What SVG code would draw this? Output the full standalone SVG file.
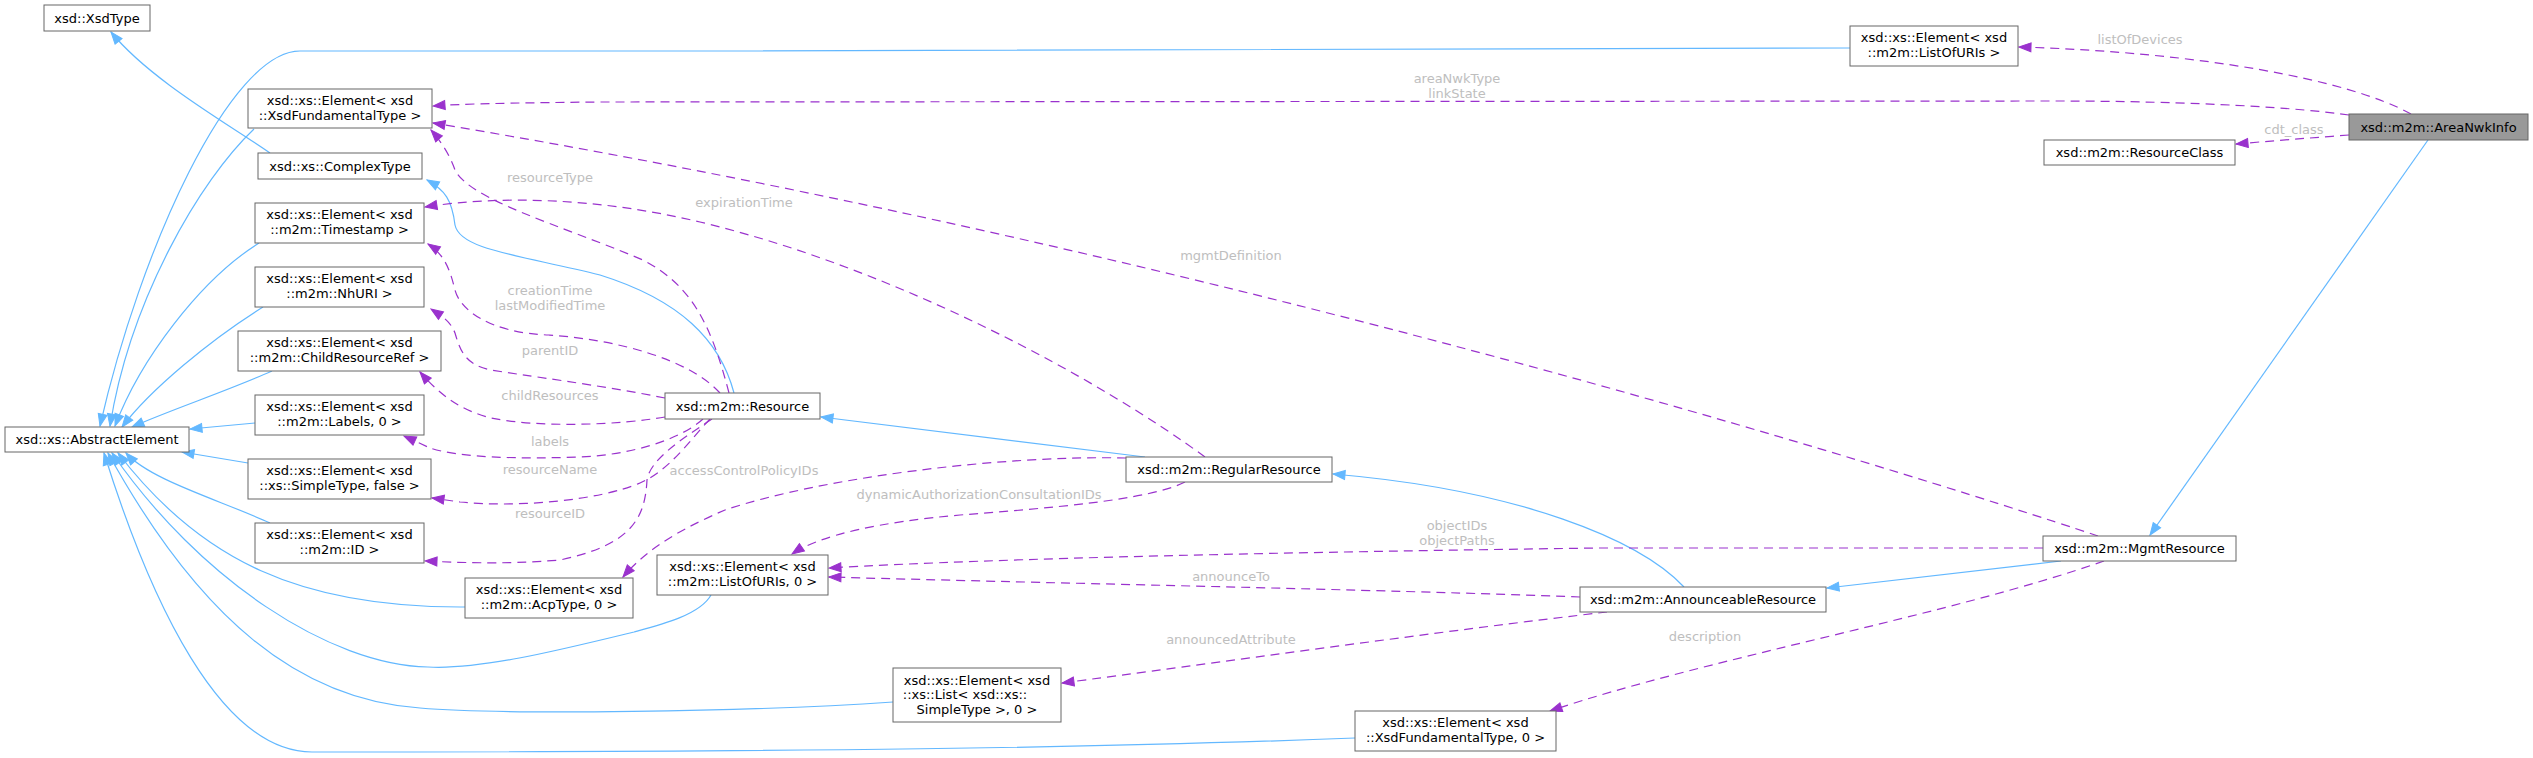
<svg xmlns="http://www.w3.org/2000/svg" width="2533" height="758" viewBox="0 0 2533 758">
<style>
.n rect{fill:#fff;stroke:#666;stroke-width:1}
.n text{font-family:"DejaVu Sans",sans-serif;font-size:13px;fill:#000;text-anchor:middle}
.main rect{fill:#999}
.b{fill:none;stroke:#63b8ff;stroke-width:1.2;marker-end:url(#ab)}
.p{fill:none;stroke:#9a32cd;stroke-width:1.2;stroke-dasharray:9,6;marker-end:url(#ap)}
.l{font-family:"DejaVu Sans",sans-serif;font-size:13px;fill:#bebebe;text-anchor:middle}
</style>
<defs>
<marker id="ab" markerUnits="userSpaceOnUse" markerWidth="14" markerHeight="12" refX="13" refY="6" orient="auto"><path d="M1,1.5 L13,6 L1,10.5 z" fill="#63b8ff" stroke="#63b8ff"/></marker>
<marker id="ap" markerUnits="userSpaceOnUse" markerWidth="14" markerHeight="12" refX="13" refY="6" orient="auto"><path d="M1,1.5 L13,6 L1,10.5 z" fill="#9a32cd" stroke="#9a32cd"/></marker>
</defs>
<rect width="2533" height="758" fill="#fff"/>
<g id="edges">
<path class="b" d="M270,153 C230,125 150,80 111,32"/>
<path class="b" d="M254,129 C200,180 130,300 110,426"/>
<path class="b" d="M1850,48 C1700,50 1200,51 700,51 L300,51 C230,51 140,250 100,426"/>
<path class="b" d="M259,243 C200,280 140,360 115,426"/>
<path class="b" d="M263,307 C210,340 150,390 122,427"/>
<path class="b" d="M272,371 C230,390 170,410 132,427"/>
<path class="b" d="M255,423 L190,429"/>
<path class="b" d="M248,463 L182,452"/>
<path class="b" d="M270,523 C220,500 150,480 126,453"/>
<path class="b" d="M465,607 C300,608 200,560 118,453"/>
<path class="b" d="M711,595 C700,615 660,625 634,632 C560,650 480,670 428,667 C330,665 200,580 112,453"/>
<path class="b" d="M893,702 C750,712 500,715 420,708 C300,700 200,620 108,453"/>
<path class="b" d="M1355,738 C1100,748 800,752 312,752 C220,752 150,600 104,453"/>
<path class="b" d="M734,393 C720,340 680,300 600,275 C520,255 460,250 455,225 C452,200 445,190 427,180"/>
<path class="b" d="M1145,457 L821,417"/>
<path class="b" d="M1684,587 C1640,540 1520,490 1333,474"/>
<path class="b" d="M2061,561 L1827,588"/>
<path class="b" d="M2428,140 L2150,535"/>
<path class="p" d="M2411,114 C2350,80 2200,52 2019,47"/>
<path class="p" d="M2349,115 C2300,108 2200,101 2050,101 L600,102 C500,103 460,104 433,106"/>
<path class="p" d="M2349,135 C2310,138 2270,141 2236,144"/>
<path class="p" d="M2098,536 C1900,470 1200,250 433,123"/>
<path class="p" d="M1205,457 C1100,380 900,270 700,222 C600,198 500,195 425,207"/>
<path class="p" d="M729,393 C710,320 690,285 643,260 C560,225 470,200 455,170 C450,155 440,140 431,130"/>
<path class="p" d="M720,393 C690,360 620,340 549,335 C490,333 460,310 455,290 C450,270 445,255 428,244"/>
<path class="p" d="M665,398 C600,385 520,375 491,370 C465,365 460,350 455,333 C450,320 440,315 431,309"/>
<path class="p" d="M665,417 C620,425 540,428 491,418 C460,410 440,395 420,372"/>
<path class="p" d="M703,419 C680,440 630,455 580,457 C520,459 460,458 430,448 L404,436"/>
<path class="p" d="M710,419 C690,440 670,470 640,483 C600,500 520,508 460,502 L432,498"/>
<path class="p" d="M712,419 C680,440 650,460 647,480 C645,520 630,545 560,560 C500,565 450,562 425,561"/>
<path class="p" d="M1126,458 C1000,455 820,478 725,510 C690,525 650,545 623,577"/>
<path class="p" d="M1185,482 C1150,500 1050,508 960,515 C880,522 820,535 792,554"/>
<path class="p" d="M2043,548 L1600,548 C1300,552 1000,558 829,568"/>
<path class="p" d="M1580,597 C1400,590 1000,582 829,577"/>
<path class="p" d="M1607,612 C1450,630 1200,665 1062,683"/>
<path class="p" d="M2104,561 C1950,615 1700,660 1550,711"/>
<text class="l" x="2140" y="44">listOfDevices</text>
<text class="l" x="1457" y="83">areaNwkType</text>
<text class="l" x="1457" y="98">linkState</text>
<text class="l" x="2294" y="134">cdt_class</text>
<text class="l" x="1231" y="260">mgmtDefinition</text>
<text class="l" x="744" y="207">expirationTime</text>
<text class="l" x="550" y="182">resourceType</text>
<text class="l" x="550" y="295">creationTime</text>
<text class="l" x="550" y="310">lastModifiedTime</text>
<text class="l" x="550" y="355">parentID</text>
<text class="l" x="550" y="400">childResources</text>
<text class="l" x="550" y="446">labels</text>
<text class="l" x="550" y="474">resourceName</text>
<text class="l" x="550" y="518">resourceID</text>
<text class="l" x="744" y="475">accessControlPolicyIDs</text>
<text class="l" x="979" y="499">dynamicAuthorizationConsultationIDs</text>
<text class="l" x="1457" y="530">objectIDs</text>
<text class="l" x="1457" y="545">objectPaths</text>
<text class="l" x="1231" y="581">announceTo</text>
<text class="l" x="1231" y="644">announcedAttribute</text>
<text class="l" x="1705" y="641">description</text>
</g>
<g id="n_xsdtype" class="n"><rect x="44" y="5" width="106" height="26"/><text x="97" y="22.5">xsd::XsdType</text></g>
<g id="n_elem_fund" class="n"><rect x="248" y="89" width="184" height="39"/><text x="340" y="104.5">xsd::xs::Element&lt; xsd</text><text x="340" y="119.5">::XsdFundamentalType &gt;</text></g>
<g id="n_complextype" class="n"><rect x="258" y="153" width="164" height="26"/><text x="340" y="170.5">xsd::xs::ComplexType</text></g>
<g id="n_timestamp" class="n"><rect x="255" y="203" width="169" height="40"/><text x="339.5" y="218.5">xsd::xs::Element&lt; xsd</text><text x="339.5" y="233.5">::m2m::Timestamp &gt;</text></g>
<g id="n_nhuri" class="n"><rect x="255" y="267" width="169" height="40"/><text x="339.5" y="282.5">xsd::xs::Element&lt; xsd</text><text x="339.5" y="297.5">::m2m::NhURI &gt;</text></g>
<g id="n_childref" class="n"><rect x="238" y="331" width="203" height="40"/><text x="339.5" y="346.5">xsd::xs::Element&lt; xsd</text><text x="339.5" y="361.5">::m2m::ChildResourceRef &gt;</text></g>
<g id="n_labels" class="n"><rect x="255" y="395" width="169" height="40"/><text x="339.5" y="410.5">xsd::xs::Element&lt; xsd</text><text x="339.5" y="425.5">::m2m::Labels, 0 &gt;</text></g>
<g id="n_abstract" class="n"><rect x="5" y="427" width="184" height="25"/><text x="97" y="444">xsd::xs::AbstractElement</text></g>
<g id="n_simpletype" class="n"><rect x="248" y="459" width="183" height="40"/><text x="339.5" y="474.5">xsd::xs::Element&lt; xsd</text><text x="339.5" y="489.5">::xs::SimpleType, false &gt;</text></g>
<g id="n_id" class="n"><rect x="255" y="523" width="169" height="40"/><text x="339.5" y="538.5">xsd::xs::Element&lt; xsd</text><text x="339.5" y="553.5">::m2m::ID &gt;</text></g>
<g id="n_acptype" class="n"><rect x="465" y="578" width="168" height="40"/><text x="549" y="593.5">xsd::xs::Element&lt; xsd</text><text x="549" y="608.5">::m2m::AcpType, 0 &gt;</text></g>
<g id="n_listofuris0" class="n"><rect x="657" y="555" width="171" height="40"/><text x="742.5" y="570.5">xsd::xs::Element&lt; xsd</text><text x="742.5" y="585.5">::m2m::ListOfURIs, 0 &gt;</text></g>
<g id="n_list" class="n"><rect x="893" y="668" width="168" height="54"/><text x="977" y="684.5">xsd::xs::Element&lt; xsd</text><text x="965" y="699">::xs::List&lt; xsd::xs::</text><text x="977" y="713.5">SimpleType &gt;, 0 &gt;</text></g>
<g id="n_fund0" class="n"><rect x="1355" y="711" width="201" height="40"/><text x="1455.5" y="726.5">xsd::xs::Element&lt; xsd</text><text x="1455.5" y="741.5">::XsdFundamentalType, 0 &gt;</text></g>
<g id="n_resource" class="n"><rect x="665" y="393" width="155" height="26"/><text x="742.5" y="410.5">xsd::m2m::Resource</text></g>
<g id="n_regular" class="n"><rect x="1126" y="457" width="206" height="25"/><text x="1229" y="474">xsd::m2m::RegularResource</text></g>
<g id="n_announceable" class="n"><rect x="1580" y="587" width="246" height="25"/><text x="1703" y="604">xsd::m2m::AnnounceableResource</text></g>
<g id="n_mgmt" class="n"><rect x="2043" y="536" width="193" height="25"/><text x="2139.5" y="553">xsd::m2m::MgmtResource</text></g>
<g id="n_areanwkinfo" class="n main"><rect x="2349" y="114" width="179" height="26"/><text x="2438.5" y="131.5">xsd::m2m::AreaNwkInfo</text></g>
<g id="n_resourceclass" class="n"><rect x="2044" y="140" width="191" height="25"/><text x="2139.5" y="157">xsd::m2m::ResourceClass</text></g>
<g id="n_listofuris" class="n"><rect x="1850" y="26" width="168" height="40"/><text x="1934" y="41.5">xsd::xs::Element&lt; xsd</text><text x="1934" y="56.5">::m2m::ListOfURIs &gt;</text></g>
</svg>
